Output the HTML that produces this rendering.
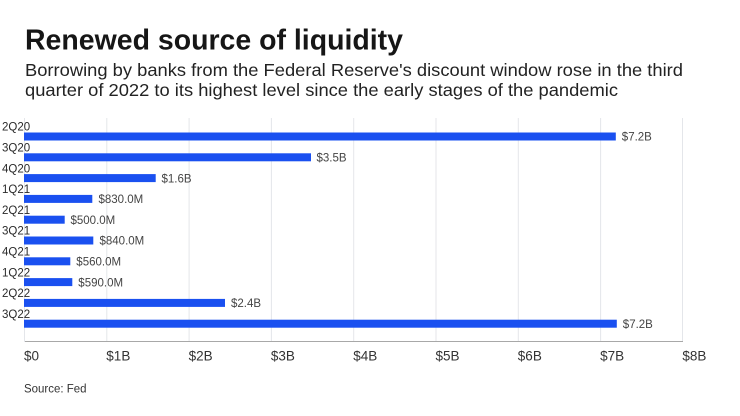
<!DOCTYPE html>
<html>
<head>
<meta charset="utf-8">
<style>
  html, body { margin: 0; padding: 0; background: #ffffff; }
  body { width: 740px; height: 416px; overflow: hidden; }
  svg { display: block; }
  text { font-family: "Liberation Sans", sans-serif; }
</style>
</head>
<body>
<svg width="740" height="416" viewBox="0 0 740 416" xmlns="http://www.w3.org/2000/svg">
  <rect width="740" height="416" fill="#ffffff"/>
  <!-- Title -->
  <text x="25" y="49.5" font-size="28.5" font-weight="bold" fill="#161616" textLength="378" lengthAdjust="spacingAndGlyphs">Renewed source of liquidity</text>
  <text x="25" y="76" font-size="17.5" fill="#222" textLength="658" lengthAdjust="spacingAndGlyphs">Borrowing by banks from the Federal Reserve's discount window rose in the third</text>
  <text x="25" y="96" font-size="17.5" fill="#222" textLength="593" lengthAdjust="spacingAndGlyphs">quarter of 2022 to its highest level since the early stages of the pandemic</text>

  <!-- Gridlines -->
  <g stroke="#e4e6ea" stroke-width="1">
    <line x1="106.8" y1="118" x2="106.8" y2="341"/>
    <line x1="189.1" y1="118" x2="189.1" y2="341"/>
    <line x1="271.4" y1="118" x2="271.4" y2="341"/>
    <line x1="353.7" y1="118" x2="353.7" y2="341"/>
    <line x1="436.0" y1="118" x2="436.0" y2="341"/>
    <line x1="518.3" y1="118" x2="518.3" y2="341"/>
    <line x1="600.6" y1="118" x2="600.6" y2="341"/>
    <line x1="682.5" y1="118" x2="682.5" y2="341"/>
  </g>
  <line x1="24" y1="341.5" x2="683" y2="341.5" stroke="#a8a8a8" stroke-width="1"/>
  <line x1="24.5" y1="118" x2="24.5" y2="342" stroke="#e4e6ea" stroke-width="1"/>

  <!-- Bars -->
  <g fill="#1a50f0">
    <rect x="24" y="132.5" width="591.8" height="8"/>
    <rect x="24" y="153.3" width="287" height="8"/>
    <rect x="24" y="174.1" width="131.7" height="8"/>
    <rect x="24" y="194.9" width="68.3" height="8"/>
    <rect x="24" y="215.7" width="40.7" height="8"/>
    <rect x="24" y="236.5" width="69.3" height="8"/>
    <rect x="24" y="257.3" width="46.3" height="8"/>
    <rect x="24" y="278.1" width="48.3" height="8"/>
    <rect x="24" y="298.9" width="201" height="8"/>
    <rect x="24" y="319.7" width="592.8" height="8"/>
  </g>

  <!-- Category labels -->
  <g font-size="11.5" fill="#2a2a2a">
    <text x="2" y="130.7">2Q20</text>
    <text x="2" y="151.5">3Q20</text>
    <text x="2" y="172.3">4Q20</text>
    <text x="2" y="193.1">1Q21</text>
    <text x="2" y="213.9">2Q21</text>
    <text x="2" y="234.7">3Q21</text>
    <text x="2" y="255.5">4Q21</text>
    <text x="2" y="276.3">1Q22</text>
    <text x="2" y="297.1">2Q22</text>
    <text x="2" y="317.9">3Q22</text>
  </g>

  <!-- Value labels -->
  <g font-size="11.5" fill="#444">
    <text x="621.8" y="140.7">$7.2B</text>
    <text x="316.5" y="161.5">$3.5B</text>
    <text x="161.5" y="182.3">$1.6B</text>
    <text x="98.5" y="203.1">$830.0M</text>
    <text x="70.5" y="223.9">$500.0M</text>
    <text x="99.5" y="244.7">$840.0M</text>
    <text x="76.3" y="265.5">$560.0M</text>
    <text x="78.3" y="286.3">$590.0M</text>
    <text x="231" y="307.1">$2.4B</text>
    <text x="622.8" y="327.9">$7.2B</text>
  </g>

  <!-- Tick labels -->
  <g font-size="13.5" fill="#333">
    <text x="24" y="360.5">$0</text>
    <text x="106.3" y="360.5">$1B</text>
    <text x="188.6" y="360.5">$2B</text>
    <text x="270.9" y="360.5">$3B</text>
    <text x="353.2" y="360.5">$4B</text>
    <text x="435.5" y="360.5">$5B</text>
    <text x="517.8" y="360.5">$6B</text>
    <text x="600.1" y="360.5">$7B</text>
    <text x="682.4" y="360.5">$8B</text>
  </g>

  <!-- Source -->
  <text x="24" y="392.5" font-size="11.5" fill="#333" textLength="62.5" lengthAdjust="spacingAndGlyphs">Source: Fed</text>
</svg>
</body>
</html>
